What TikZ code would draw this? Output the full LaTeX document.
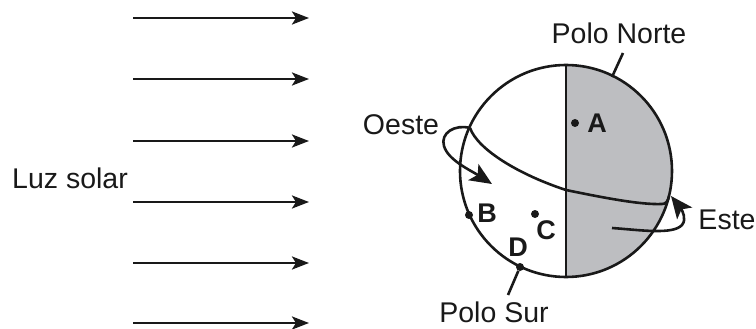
\documentclass[tikz,border=0pt]{standalone}
\usepackage{fontspec}
\setmainfont{Liberation Sans}
\usetikzlibrary{arrows.meta}
\definecolor{nightgrey}{RGB}{189,190,193}
\definecolor{ink}{RGB}{25,25,25}
\begin{document}
\begin{tikzpicture}[x=1pt,y=-1pt,
  line/.style={draw=ink,line width=2.6pt},
  ray/.style={draw=ink,line width=2.7pt,-{Stealth[length=17pt,width=13pt,inset=4pt]}},
  spin/.style={draw=ink,line width=2.6pt,-{Stealth[length=22pt,width=19pt,inset=5pt]}},
  lbl/.style={font=\fontsize{28.5}{32}\selectfont,text=ink,inner sep=0pt},
  pt/.style={font=\fontsize{27}{30}\selectfont\bfseries,text=ink,inner sep=0pt},
  dot/.style={circle,fill=ink,inner sep=0pt,minimum size=8pt}]
\useasboundingbox (0,0) rectangle (756,329);

% sunlight rays
\foreach \y/\n in {18/1,79/2,141/3,202/4,263/5,323/6}{
  \coordinate (r\n s) at (133,\y);
  \coordinate (r\n e) at (309,\y);
  \draw[ray] (r\n s) -- (r\n e);
}
\node[lbl] (sun) at (70,178) {Luz solar};

% globe: grey night half, outline and meridian
\coordinate (c) at (566,171);
\coordinate (top) at (566,65);
\coordinate (bot) at (566,277);
\fill[nightgrey] (top) arc[start angle=90,end angle=-90,radius=106pt] -- cycle;
\draw[line] (c) circle[radius=106pt];
\draw[line] (top) -- (bot);

% equator
\coordinate (eqW) at (470,128);
\coordinate (eqE) at (669,196);
\draw[line] (eqW) .. controls (478,150) and (520,175) .. (566,190)
  .. controls (600,197) and (640,205) .. (662,204)
  .. controls (666,204) and (668,201) .. (eqE);

% axis ends and pole labels
\coordinate (npole) at (612,77);
\coordinate (ntip) at (623,53);
\node[dot] (D) at (520,267) {};
\coordinate (stip) at (508,295);
\draw[line] (npole) -- (ntip);
\draw[line] (D) -- (stip);
\node[lbl] (pn) at (619,33) {Polo Norte};
\node[lbl] (ps) at (494,312) {Polo Sur};

% sense of rotation
\draw[spin] (eqW) .. controls (455,124) and (440,133) .. (444,146)
  .. controls (448,160) and (470,170) .. (492,184);
\node[lbl] (oeste) at (401,125) {Oeste};
\coordinate (eStart) at (612,228);
\draw[spin] (eStart) .. controls (640,230) and (673,235) .. (682,225)
  .. controls (687,219) and (682,210) .. (671,196);
\node[lbl] (este) at (727,220) {Este};

% marked places
\node[dot] (A) at (575,123) {};
\node[dot] (B) at (469,215) {};
\node[dot] (C) at (535,214) {};
\node[pt] at (597,123) {A};
\node[pt] at (487,213) {B};
\node[pt] at (546,230) {C};
\node[pt] at (518,247) {D};
\end{tikzpicture}
\end{document}
